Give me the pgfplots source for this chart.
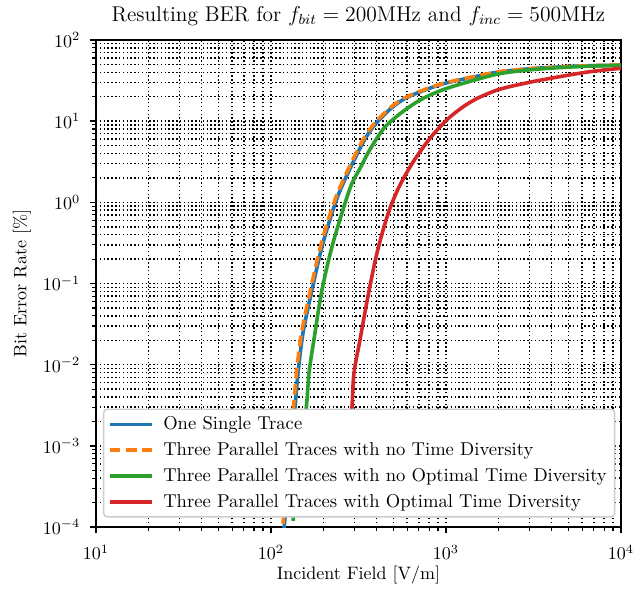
\documentclass[border=0pt]{standalone}
\usepackage{fontspec}
\usepackage{pgfplots}
\pgfplotsset{compat=1.18}
\definecolor{tabblue}{HTML}{1F77B4}
\definecolor{taborange}{HTML}{FF7F0E}
\definecolor{tabgreen}{HTML}{2CA02C}
\definecolor{tabred}{HTML}{D62728}
\begin{document}
\begin{tikzpicture}
\begin{loglogaxis}[
    scale only axis,
    width=291.7pt, height=270.6pt,
    xmin=10, xmax=1e4,
    ymin=1e-4, ymax=1e2,
    xtick={10,100,1000,10000},
    ytick={1e-4,1e-3,1e-2,1e-1,1,10,100},
    minor xtick={20,30,40,50,60,70,80,90,200,300,400,500,600,700,800,900,2000,3000,4000,5000,6000,7000,8000,9000},
    minor ytick={2e-4,3e-4,4e-4,5e-4,6e-4,7e-4,8e-4,9e-4,
                 2e-3,3e-3,4e-3,5e-3,6e-3,7e-3,8e-3,9e-3,
                 0.02,0.03,0.04,0.05,0.06,0.07,0.08,0.09,
                 0.2,0.3,0.4,0.5,0.6,0.7,0.8,0.9,
                 2,3,4,5,6,7,8,9,20,30,40,50,60,70,80,90},
    title={Resulting BER for $f_{bit} = 200\mathrm{MHz}$ and $f_{inc} = 500\mathrm{MHz}$},
    title style={font=\fontsize{11.85}{14}\selectfont,
        at={(axis description cs:0.5,1.0268)}, anchor=center, yshift=0pt},
    xlabel={Incident Field [V/m]},
    ylabel={Bit Error Rate [\%]},
    xlabel style={at={(axis description cs:0.5,-0.0986)}, anchor=center},
    ylabel style={at={(axis description cs:-0.141,0.5)}, anchor=center},
    x tick label style={yshift=-3pt},
    y tick label style={xshift=-1.7pt},
    grid=both,
    major grid style={black, line width=0.8pt, dash pattern=on 0.8pt off 1.32pt},
    minor grid style={black, line width=0.8pt, dash pattern=on 0.8pt off 1.32pt},
    axis line style={line width=0.8pt},
    tick align=outside,
    xtick pos=left, ytick pos=left,
    major tick length=3.5pt, minor tick length=2pt,
    every tick/.style={black, line width=0.8pt},
    every minor tick/.append style={line width=0.6pt},
    legend cell align=left,
    legend style={at={(0.0133,0.0193)}, anchor=south west,
        draw=black!20, line width=0.8pt, rounded corners=2pt, fill=white,
        inner xsep=2.3pt, inner ysep=2pt, row sep=1.6pt, column sep=3.5pt,
        font=\fontsize{10.33}{12.4}\selectfont},
    legend image code/.code={\draw[#1] (0pt,0pt) -- (23.3pt,0pt);},
    every axis plot/.append style={line width=2pt, line join=round, smooth, tension=0.5},
]
% One single trace
\addplot[tabblue] coordinates {
  (117.1,6.95e-5) (137.2,3.02e-3) (142.7,7.92e-3) (152.4,0.02465)
  (171.5,0.0834) (198.2,0.316) (242.4,1.233) (322.5,4.638)
  (384.2,8.56) (491.3,14.75) (598.6,19.59) (758.6,24.23)
  (987,29.29) (1464,35.3) (2035,40.6) (3020,44.2)
  (4480,46.6) (6651,48.2) (10000,49.0)
};
\addlegendentry{One Single Trace}
% three parallel, no time diversity
\addplot[taborange, dash pattern=on 6pt off 3pt] coordinates {
  (114.8,6.95e-5) (134.5,3.02e-3) (139.8,7.92e-3) (149.4,0.02465)
  (168.1,0.0834) (194.2,0.316) (237.6,1.233) (316.1,4.638)
  (376.5,8.56) (481.5,14.75) (586.6,19.59) (743.4,24.23)
  (967,29.29) (1435,35.3) (1994,40.6) (2960,44.2)
  (4390,46.6) (6518,48.2) (10000,49.1)
};
\addlegendentry{Three Parallel Traces with no Time Diversity}
% three parallel, no optimal time diversity
\addplot[tabgreen] coordinates {
  (133.6,1.19e-4) (158.5,2.77e-3) (164.9,7.92e-3) (178.4,0.02465)
  (195.6,0.0834) (226.1,0.316) (282.8,1.492) (322.5,2.615)
  (367.9,4.482) (448.0,8.48) (583.1,13.74) (738.8,19.04)
  (987,24.93) (1464,32.17) (2035,38.6) (3020,42.9)
  (4480,45.7) (6651,47.6) (10000,48.6)
};
\addlegendentry{Three Parallel Traces with no Optimal Time Diversity}
% three parallel, optimal time diversity
\addplot[tabred] coordinates {
  (281.0,1.186e-3) (290.3,3.02e-3) (298.0,7.92e-3) (322.5,0.0202)
  (354.9,0.0628) (392.9,0.1861) (429.1,0.3967) (478.6,0.846)
  (546.1,1.638) (650.5,3.171) (810.2,6.157) (1009,10.35)
  (1256,15.09) (1530,19.4) (2035,24.8) (3020,30.2)
  (4480,35.4) (6651,40.70) (10000,44.83)
};
\addlegendentry{Three Parallel Traces with Optimal Time Diversity}
\end{loglogaxis}
\path ([xshift=-53.33pt,yshift=-31.11pt]current axis.south west)
  rectangle ([xshift=11.11pt,yshift=22.22pt]current axis.north east);
\end{tikzpicture}
\end{document}
